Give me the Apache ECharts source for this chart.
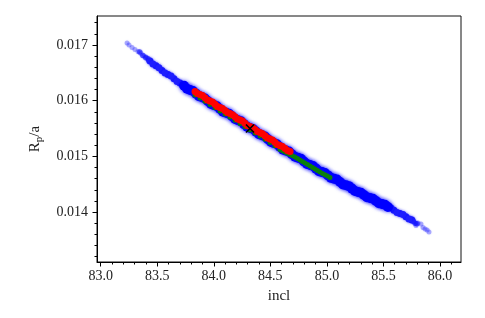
<!DOCTYPE html>
<html><head><meta charset="utf-8">
<script src="https://cdn.jsdelivr.net/npm/echarts@6/dist/echarts.min.js"></script>
<style>html,body{margin:0;padding:0;background:#fff}#c{width:485px;height:318px}</style>
</head><body><div id="c"></div>
<script>
const xMajorTicks = [83.0, 83.5, 84.0, 84.5, 85.0, 85.5, 86.0];
const xMinorTicks = [83.0,83.1,83.2,83.3,83.4,83.5,83.6,83.7,83.8,83.9,84.0,84.1,84.2,84.3,84.4,84.5,84.6,84.7,84.8,84.9,85.0,85.1,85.2,85.3,85.4,85.5,85.6,85.7,85.8,85.9,86.0,86.1];
const yMajorTicks = [0.014, 0.015, 0.016, 0.017];
const yMinorTicks = [0.0132,0.0134,0.0136,0.0138,0.0140,0.0142,0.0144,0.0146,0.0148,0.0150,0.0152,0.0154,0.0156,0.0158,0.0160,0.0162,0.0164,0.0166,0.0168,0.0170,0.0172,0.0174];

// faint outlying samples at both ends of the chain
const blueTail = [
  [83.233,0.017036],[83.250,0.017000],[83.277,0.016955],[83.303,0.016919],
  [83.330,0.016883],[83.356,0.016847],[83.383,0.016803],[83.401,0.016785],
  [85.770,0.013822],[85.806,0.013804],[85.832,0.013786],[85.850,0.013724],
  [85.868,0.013697],[85.886,0.013679],[85.903,0.013643],[85.788,0.013759]
];
// sparser samples where the tail meets the cloud
const blueSparse = [
  [83.345,0.016874],[83.372,0.016811],[83.398,0.016772],[83.418,0.016752],[83.425,0.016722],
  [85.745,0.013878],[85.762,0.013842],[85.781,0.013800],[85.795,0.013792]
];
// thinner part of the blue cloud
const blueEdge = [
  [83.436,0.016713],[83.489,0.016627],[83.542,0.016544],[83.595,0.016469],
  [83.648,0.016393],[83.701,0.016318],
  [83.462,0.016659],[83.515,0.016594],[83.569,0.016496],[83.622,0.016442],[83.675,0.016345],
  [85.593,0.014034],[85.646,0.013975],[85.699,0.013916],[85.752,0.013856],
  [85.567,0.014075],[85.620,0.013994],[85.673,0.013956],[85.726,0.013875]
];
// dense blue cloud
const blueCore = [
  [83.737,0.016268],[83.790,0.016192],[83.843,0.016127],[83.896,0.016061],
  [83.949,0.015991],[84.002,0.015921],[84.055,0.015851],[84.108,0.015786],
  [84.161,0.015720],[84.214,0.015650],[84.267,0.015580],[84.320,0.015510],
  [84.373,0.015445],[84.426,0.015379],[84.479,0.015309],[84.532,0.015239],
  [84.585,0.015169],[84.638,0.015104],[84.691,0.015040],[84.744,0.014975],
  [84.797,0.014910],[84.851,0.014846],[84.904,0.014781],[84.957,0.014718],
  [85.010,0.014659],[85.063,0.014600],[85.116,0.014540],[85.169,0.014481],
  [85.222,0.014422],[85.275,0.014363],[85.328,0.014307],[85.381,0.014253],
  [85.434,0.014199],[85.487,0.014145],[85.540,0.014092]
];
const blueCoreB = [
  [83.763,0.016215],[83.816,0.016174],[83.869,0.016081],[83.922,0.016040],
  [83.975,0.015942],[84.028,0.015900],[84.081,0.015804],[84.134,0.015768],
  [84.188,0.015671],[84.241,0.015629],[84.294,0.015531],[84.347,0.015492],
  [84.400,0.015399],[84.453,0.015358],[84.506,0.015259],[84.559,0.015218],
  [84.612,0.015122],[84.665,0.015086],[84.718,0.014993],[84.771,0.014957],
  [84.824,0.014864],[84.877,0.014828],[84.930,0.014734],[84.983,0.014703],
  [85.036,0.014615],[85.089,0.014584],[85.142,0.014496],[85.195,0.014466],
  [85.248,0.014378],[85.301,0.014348],[85.354,0.014266],[85.407,0.014241],
  [85.460,0.014158],[85.513,0.014133]
];
const greenPts = [
  [83.834,0.016102],[83.878,0.016049],[83.922,0.015990],[83.966,0.015932],
  [84.011,0.015874],[84.055,0.015815],[84.099,0.015761],[84.143,0.015707],
  [84.188,0.015649],[84.232,0.015591],[84.276,0.015532],[84.320,0.015474],
  [84.365,0.015420],[84.409,0.015366],[84.453,0.015308],[84.497,0.015250],
  [84.541,0.015191],[84.585,0.015124],[84.630,0.015079],[84.674,0.015034],
  [84.718,0.014989],[84.762,0.014935],[84.806,0.014882],[84.851,0.014828],
  [84.895,0.014774],[84.939,0.014720],[84.983,0.014671],[85.027,0.014621],
  [84.607,0.015102],[84.652,0.015056],[84.696,0.015011],[84.740,0.014962],
  [84.784,0.014908],[84.829,0.014855],[84.873,0.014801],[84.917,0.014747],
  [84.961,0.014695],[85.005,0.014646]
];
const redPts = [
  [83.834,0.016165],[83.878,0.016111],[83.922,0.016053],[83.966,0.015995],
  [84.011,0.015936],[84.055,0.015878],[84.099,0.015824],[84.143,0.015770],
  [84.188,0.015712],[84.232,0.015654],[84.276,0.015595],[84.320,0.015537],
  [84.365,0.015483],[84.409,0.015429],[84.453,0.015371],[84.497,0.015312],
  [84.541,0.015254],[84.585,0.015196],[84.630,0.015142],[84.674,0.015088],
  [83.856,0.016129],[83.900,0.016092],[83.944,0.016014],[83.989,0.015975],
  [84.033,0.015898],[84.077,0.015860],[84.121,0.015788],[84.166,0.015750],
  [84.210,0.015673],[84.254,0.015634],[84.298,0.015557],[84.343,0.015519],
  [84.387,0.015447],[84.431,0.015409],[84.475,0.015332],[84.519,0.015293],
  [84.563,0.015215],[84.607,0.015178],[84.652,0.015106]
];
const blackPts = [[84.320,0.015501]];

const FONT = 'Liberation Serif';
const X_MIN = 82.967, X_MAX = 86.186;
const Y_MIN = 0.013104, Y_MAX = 0.017521;
const txt = '#222';

const blueCoreStyle = {color: '#0000ff', opacity: 1, shadowBlur: 4, shadowColor: 'rgba(0,0,255,0.65)'};

const chart = echarts.init(document.getElementById('c'), null, {renderer: 'canvas'});
chart.setOption({
  animation: false,
  grid: {left: 97, right: 24, top: 16, bottom: 56, show: true, borderColor: '#111', borderWidth: 1, backgroundColor: 'transparent'},
  xAxis: [
    {
      type: 'value', min: X_MIN, max: X_MAX, position: 'bottom',
      axisLine: {show: true, lineStyle: {color: '#000', width: 1}},
      axisTick: {show: true, customValues: xMajorTicks, length: 4.5, lineStyle: {color: '#000'}},
      axisLabel: {customValues: xMajorTicks, formatter: v => v.toFixed(1), margin: 7, fontFamily: FONT, fontSize: 14, color: txt},
      splitLine: {show: false},
      name: 'incl', nameLocation: 'middle', nameGap: 27,
      nameTextStyle: {fontFamily: FONT, fontSize: 15, color: txt}
    },
    {
      type: 'value', min: X_MIN, max: X_MAX, position: 'bottom',
      axisLine: {show: false},
      axisTick: {show: true, customValues: xMinorTicks, length: 2.5, lineStyle: {color: '#000'}},
      axisLabel: {show: false}, splitLine: {show: false}
    }
  ],
  yAxis: [
    {
      type: 'value', min: Y_MIN, max: Y_MAX, position: 'left',
      axisLine: {show: true, lineStyle: {color: '#000', width: 1}},
      axisTick: {show: true, customValues: yMajorTicks, length: 4.5, lineStyle: {color: '#000'}},
      axisLabel: {customValues: yMajorTicks, formatter: v => v.toFixed(3), margin: 9, fontFamily: FONT, fontSize: 14, color: txt},
      splitLine: {show: false},
      name: '{a|R}{b|p}{a|/a}', nameLocation: 'middle', nameGap: 52, nameRotate: 90,
      nameTextStyle: {fontFamily: FONT, fontSize: 15, color: txt,
        rich: {a: {fontFamily: FONT, fontSize: 15, color: txt},
               b: {fontFamily: FONT, fontSize: 11, color: txt, padding: [8, 0, 0, 0]}}}
    },
    {
      type: 'value', min: Y_MIN, max: Y_MAX, position: 'left',
      axisLine: {show: false},
      axisTick: {show: true, customValues: yMinorTicks, length: 2.5, lineStyle: {color: '#000'}},
      axisLabel: {show: false}, splitLine: {show: false}
    }
  ],
  series: [
    {type: 'scatter', data: blueTail, symbolSize: 5, silent: true,
     itemStyle: {color: 'rgba(40,40,255,0.35)', opacity: 1, shadowBlur: 2, shadowColor: 'rgba(0,0,255,0.3)'}},
    {type: 'scatter', data: blueSparse, symbolSize: 5.5, silent: true,
     itemStyle: {color: 'rgba(20,20,255,0.6)', opacity: 1, shadowBlur: 2, shadowColor: 'rgba(0,0,255,0.4)'}},
    {type: 'scatter', data: blueEdge, symbolSize: 7, silent: true,
     itemStyle: {color: '#1e1eff', opacity: 1, shadowBlur: 3, shadowColor: 'rgba(0,0,255,0.5)'}},
    {type: 'scatter', data: blueCore, symbolSize: 10, silent: true, itemStyle: blueCoreStyle},
    {type: 'scatter', data: blueCoreB, symbolSize: 10, silent: true, itemStyle: blueCoreStyle},
    {type: 'scatter', data: greenPts, symbolSize: 5, silent: true,
     itemStyle: {color: '#0a800a', opacity: 1}},
    {type: 'scatter', data: redPts, symbolSize: 7, silent: true,
     itemStyle: {color: '#ff0000', opacity: 1}},
    {type: 'scatter', data: blackPts, symbol: 'path://M0,0L10,10M10,0L0,10', symbolSize: 8, silent: true,
     itemStyle: {color: 'none', opacity: 1, borderColor: '#000', borderWidth: 1.6}}
  ]
});
</script></body></html>
